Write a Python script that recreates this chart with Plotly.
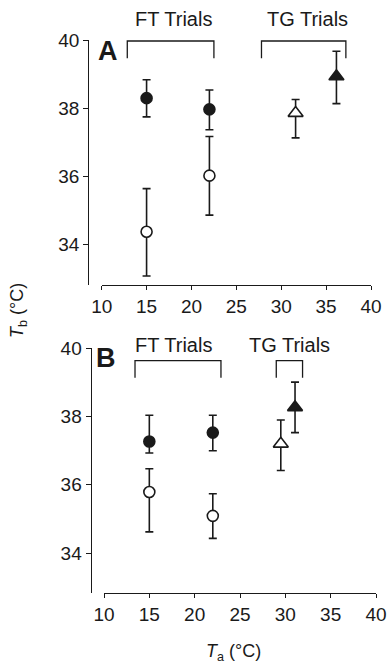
import plotly.graph_objects as go

W, H = 390, 668

# ---------------- Data ----------------
# Panel A
a_ft_x = [15, 22]
a_ft_fed_mean = [38.29, 37.96]
a_ft_fed_top = [38.83, 38.53]
a_ft_fed_bot = [37.74, 37.36]
a_ft_fast_mean = [34.36, 36.01]
a_ft_fast_top = [35.63, 37.16]
a_ft_fast_bot = [33.06, 34.85]
a_tg_open_x = [31.6]
a_tg_open_mean = [37.85]
a_tg_open_top = [38.25]
a_tg_open_bot = [37.12]
a_tg_fill_x = [36.15]
a_tg_fill_mean = [38.93]
a_tg_fill_top = [39.67]
a_tg_fill_bot = [38.13]
a_br_ft_x = [12.85, 22.5]
a_br_tg_x = [27.8, 37.2]
a_br_y = [39.97, 39.46]

# Panel B
b_ft_x = [15, 22]
b_ft_fed_mean = [37.27, 37.53]
b_ft_fed_top = [38.04, 38.04]
b_ft_fed_bot = [36.93, 37.0]
b_ft_fast_mean = [35.79, 35.09]
b_ft_fast_top = [36.47, 35.74]
b_ft_fast_bot = [34.62, 34.43]
b_tg_open_x = [29.5]
b_tg_open_mean = [37.2]
b_tg_open_top = [37.9]
b_tg_open_bot = [36.42]
b_tg_fill_x = [31.07]
b_tg_fill_mean = [38.27]
b_tg_fill_top = [39.01]
b_tg_fill_bot = [37.53]
b_br_ft_x = [13.42, 22.9]
b_br_tg_x = [29.0, 31.9]
b_br_y = [39.64, 39.14]

trial_labels = ["FT Trials", "TG Trials"]
panel_labels = ["A", "B"]
x_ticks = [10, 15, 20, 25, 30, 35, 40]
y_ticks = [34, 36, 38, 40]

INK = "#1a1a1a"
FONT = "Liberation Sans, Arial, sans-serif"

fig = go.Figure()


def err(mean, top, bot):
    return dict(type="data", symmetric=False,
                array=[t - m for t, m in zip(top, mean)],
                arrayminus=[m - b for m, b in zip(mean, bot)],
                color=INK, thickness=1.6, width=4)


def add_points(x, mean, top, bot, symbol, fill, xa, ya):
    fig.add_trace(go.Scatter(
        x=x, y=mean, mode="markers", xaxis=xa, yaxis=ya,
        error_y=err(mean, top, bot),
        marker=dict(symbol=symbol, size=11 if "circle" in symbol else 13,
                    color=fill, line=dict(color=INK, width=1.6)),
        cliponaxis=False, showlegend=False, hoverinfo="skip"))


def add_bracket(bx, by, xa, ya):
    fig.add_trace(go.Scatter(
        x=[bx[0], bx[0], bx[1], bx[1]], y=[by[1], by[0], by[0], by[1]],
        mode="lines", line=dict(color=INK, width=1.3), xaxis=xa, yaxis=ya,
        cliponaxis=False, showlegend=False, hoverinfo="skip"))


# Panel A
add_points(a_ft_x, a_ft_fast_mean, a_ft_fast_top, a_ft_fast_bot, "circle", "white", "x", "y")
add_points(a_ft_x, a_ft_fed_mean, a_ft_fed_top, a_ft_fed_bot, "circle", INK, "x", "y")
add_points(a_tg_open_x, a_tg_open_mean, a_tg_open_top, a_tg_open_bot, "triangle-up", "white", "x", "y")
add_points(a_tg_fill_x, a_tg_fill_mean, a_tg_fill_top, a_tg_fill_bot, "triangle-up", INK, "x", "y")
add_bracket(a_br_ft_x, a_br_y, "x", "y")
add_bracket(a_br_tg_x, a_br_y, "x", "y")

# Panel B
add_points(b_ft_x, b_ft_fast_mean, b_ft_fast_top, b_ft_fast_bot, "circle", "white", "x2", "y2")
add_points(b_ft_x, b_ft_fed_mean, b_ft_fed_top, b_ft_fed_bot, "circle", INK, "x2", "y2")
add_points(b_tg_open_x, b_tg_open_mean, b_tg_open_top, b_tg_open_bot, "triangle-up", "white", "x2", "y2")
add_points(b_tg_fill_x, b_tg_fill_mean, b_tg_fill_top, b_tg_fill_bot, "triangle-up", INK, "x2", "y2")
add_bracket(b_br_ft_x, b_br_y, "x2", "y2")
add_bracket(b_br_tg_x, b_br_y, "x2", "y2")


def px_x(p):
    return p / W


def px_y(p):
    return 1 - p / H


common_x = dict(range=[10, 40], tickvals=x_ticks, ticks="outside", ticklen=4,
                tickwidth=1.3, tickcolor=INK, showline=True, linecolor=INK,
                linewidth=1.3, showgrid=False, zeroline=False, automargin=False,
                tickfont=dict(size=19, color=INK, family=FONT))
common_y = dict(range=[32.8, 40], tickvals=y_ticks, ticks="outside", ticklen=5,
                tickwidth=1.3, tickcolor=INK, showline=True, linecolor=INK,
                linewidth=1.3, showgrid=False, zeroline=False, automargin=False,
                tickfont=dict(size=19, color=INK, family=FONT))

fig.update_layout(
    width=W, height=H, margin=dict(l=0, r=0, t=0, b=0, autoexpand=False),
    paper_bgcolor="white", plot_bgcolor="white",
    font=dict(family=FONT, color=INK),
    xaxis=dict(common_x, domain=[px_x(101.7), px_x(371)], anchor="y"),
    yaxis=dict(common_y, domain=[px_y(284.8), px_y(40)], anchor="free",
               position=px_x(88.3)),
    xaxis2=dict(common_x, domain=[px_x(104), px_x(376)], anchor="y2"),
    yaxis2=dict(common_y, range=[32.83, 40], domain=[px_y(593), px_y(348.3)],
                anchor="free", position=px_x(90.7)),
)


def label(x, y, text, size, angle=0):
    return dict(x=px_x(x), y=px_y(y), xref="paper", yref="paper", text=text,
                xanchor="center", yanchor="middle", showarrow=False,
                textangle=angle, font=dict(size=size, color=INK, family=FONT))


ann = [
    label(173, 19, trial_labels[0], 20),
    label(307.5, 19, trial_labels[1], 20),
    label(173, 345, trial_labels[0], 20),
    label(289, 345, trial_labels[1], 20),
    label(108, 51, "<b>%s</b>" % panel_labels[0], 27),
    label(106.5, 358, "<b>%s</b>" % panel_labels[1], 27),
    label(19, 311, "<i>T</i><sub>b</sub> (°C)", 18, -90),
    label(233, 652, "<i>T</i><sub>a</sub> (°C)", 18),
]
fig.update_layout(annotations=ann)

fig.write_html("out.html")
